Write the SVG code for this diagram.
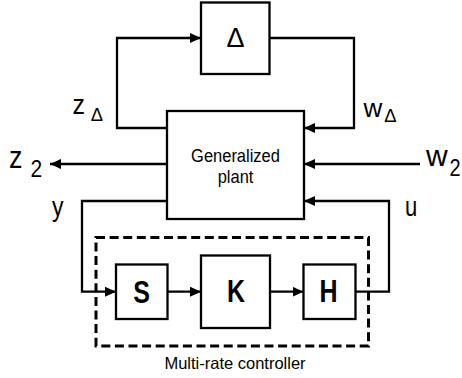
<svg xmlns="http://www.w3.org/2000/svg" width="462" height="378" viewBox="0 0 462 378">
<style>
.box{fill:#fff;stroke:#000;stroke-width:2.3}
.ln{fill:none;stroke:#000;stroke-width:2.3}
.t{font-family:"Liberation Sans",Arial,sans-serif;fill:#000}
.b{font-family:"Liberation Sans",Arial,sans-serif;font-weight:bold;fill:#000}
</style>
<defs>
<marker id="ah" markerUnits="userSpaceOnUse" markerWidth="12" markerHeight="12" refX="11" refY="5" orient="auto">
<path d="M0,0 L11,5 L0,10 Z" fill="#000"/>
</marker>
</defs>
<rect width="462" height="378" fill="#fff"/>
<g id="connectors">
<path class="ln" d="M167,128 H117 V38 H201" marker-end="url(#ah)"/>
<path class="ln" d="M269,38 H354 V128 H304" marker-end="url(#ah)"/>
<path class="ln" d="M167,164 H50" marker-end="url(#ah)"/>
<path class="ln" d="M420,164 H304" marker-end="url(#ah)"/>
<path class="ln" d="M167,201 H82 V291.7 H116" marker-end="url(#ah)"/>
<path class="ln" d="M167,291.7 H201" marker-end="url(#ah)"/>
<path class="ln" d="M270,291.7 H303.5" marker-end="url(#ah)"/>
<path class="ln" d="M355.5,291.7 H389 V201 H304" marker-end="url(#ah)"/>
</g>
<g id="delta">
<rect class="box" x="201" y="2.5" width="68.5" height="71.5"/>
<text class="t" x="235.5" y="46.7" font-size="28" text-anchor="middle" textLength="18" lengthAdjust="spacingAndGlyphs">Δ</text>
</g>
<g id="plant">
<rect class="box" x="167" y="111" width="137" height="108"/>
<text class="t" transform="translate(235.5,161.5) scale(1,1.12)" font-size="16.5" text-anchor="middle">Generalized</text>
<text class="t" transform="translate(235.5,182.5) scale(1,1.12)" font-size="16.5" text-anchor="middle">plant</text>
</g>
<g id="controller">
<rect x="96" y="237.5" width="272.5" height="108.5" fill="none" stroke="#000" stroke-width="3" stroke-dasharray="9 4.6"/>
<text class="t" x="235" y="369.3" font-size="16.5" text-anchor="middle">Multi-rate controller</text>
</g>
<g id="S">
<rect class="box" x="116" y="264.5" width="51.5" height="54.5"/>
<text class="b" transform="translate(141.5,303.3) scale(1,1.22)" font-size="25" text-anchor="middle">S</text>
</g>
<g id="K">
<rect class="box" x="201" y="255.5" width="69" height="72.5"/>
<text class="b" transform="translate(236,301.7) scale(1,1.22)" font-size="25" text-anchor="middle">K</text>
</g>
<g id="H">
<rect class="box" x="303.5" y="264.5" width="52" height="54.5"/>
<text class="b" transform="translate(328.5,302.3) scale(1,1.22)" font-size="25" text-anchor="middle">H</text>
</g>
<g id="labels">
<text class="t" transform="translate(72.5,113.5) scale(1,1.1)" font-size="25">z</text>
<text class="t" x="90.7" y="120.7" font-size="19" textLength="12.3" lengthAdjust="spacingAndGlyphs">Δ</text>
<text class="t" transform="translate(363.5,116.7)" font-size="26">w</text>
<text class="t" x="384.2" y="121.7" font-size="19" textLength="12.3" lengthAdjust="spacingAndGlyphs">Δ</text>
<text class="t" transform="translate(9,168.3) scale(1,1.15)" font-size="27">z</text>
<text class="t" transform="translate(30.5,176.7) scale(1,1.15)" font-size="21">2</text>
<text class="t" transform="translate(426,166.3)" font-size="30">w</text>
<text class="t" transform="translate(449.5,176.3) scale(1,1.15)" font-size="20">2</text>
<text class="t" transform="translate(52,215.5) scale(1,1.2)" font-size="23">y</text>
<text class="t" transform="translate(405,215.5) scale(1,1.25)" font-size="22">u</text>
</g>
</svg>
